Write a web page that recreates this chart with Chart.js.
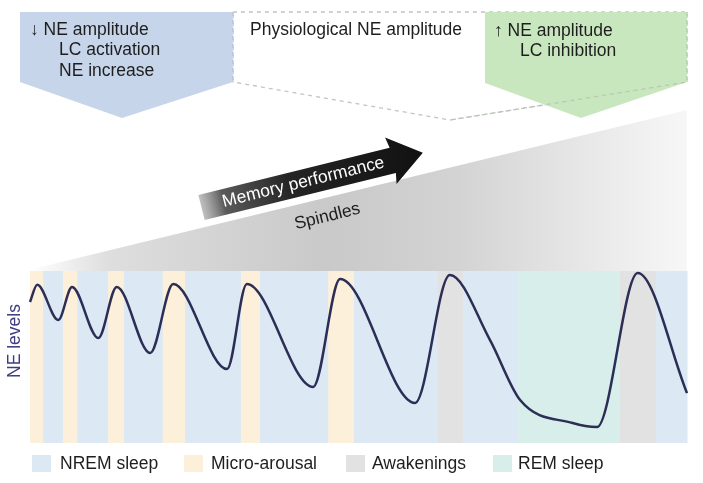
<!DOCTYPE html>
<html>
<head>
<meta charset="utf-8">
<script src="https://cdn.jsdelivr.net/npm/chart.js@4.4.0/dist/chart.umd.min.js"></script>
<style>
  html, body { margin: 0; padding: 0; background: #ffffff; }
  #wrap { width: 703px; height: 483px; position: relative; }
</style>
</head>
<body>
<div id="wrap"><canvas id="c" width="703" height="483"></canvas></div>
<script>
// ---- Data (x = time in arbitrary units 0-100, y = NE level 0-100) ----
const timePoints = [0, 1.1, 4.3, 6.4, 10.4, 13.2, 18.3, 21.8, 30.0, 33.0, 43.1, 47.2, 58.6, 63.9, 70.0, 74.6, 82.6, 86.3, 92.5, 100];
const neLevels   = [82, 92, 71.5, 90.7, 61, 90.7, 52.3, 92.4, 43, 92.4, 32.6, 95.3, 23.3, 97.7, 60, 25, 11.6, 9.3, 98.8, 29];

// sleep-stage bands along the time axis
const bandStart = [0, 2, 5, 7.2, 11.9, 14.3, 20.2, 23.6, 32.1, 35, 45.4, 49.3, 62, 65.9, 74.3, 89.8, 95.3];
const bandEnd   = [2, 5, 7.2, 11.9, 14.3, 20.2, 23.6, 32.1, 35, 45.4, 49.3, 62, 65.9, 74.3, 89.8, 95.3, 100];
const bandStage = ['micro','nrem','micro','nrem','micro','nrem','micro','nrem','micro','nrem','micro','nrem','awake','nrem','rem','awake','nrem'];

// legend categories
const stageKeys   = ['nrem', 'micro', 'awake', 'rem'];
const stageLabels = ['NREM sleep', 'Micro-arousal', 'Awakenings', 'REM sleep'];
const stageColors = ['#dce8f4', '#fcf0da', '#e2e2e2', '#d7eeea'];

// annotation texts
const leftBoxLines  = ['\u2193 NE amplitude', 'LC activation', 'NE increase'];
const midBoxText    = 'Physiological NE amplitude';
const rightBoxLines = ['\u2191 NE amplitude', 'LC inhibition'];
const arrowText     = 'Memory performance';
const belowArrowText = 'Spindles';
const yTitle        = 'NE levels';

const FONT = '"Liberation Sans", Arial, Helvetica, sans-serif';

const decor = {
  id: 'decor',
  beforeDraw(chart) {
    const ctx = chart.ctx;
    const a = chart.chartArea;
    ctx.save();
    ctx.fillStyle = '#ffffff';
    ctx.fillRect(0, 0, chart.width, chart.height);

    // gray wedge rising towards the right
    const g = ctx.createLinearGradient(a.left, 0, a.right, 0);
    g.addColorStop(0, '#ffffff');
    g.addColorStop(0.12, '#dedede');
    g.addColorStop(0.45, '#c9c9c9');
    g.addColorStop(0.65, '#d3d3d3');
    g.addColorStop(0.85, '#e8e8e8');
    g.addColorStop(1, '#f7f7f7');
    ctx.fillStyle = g;
    ctx.beginPath();
    ctx.moveTo(a.left - 10, a.top + 1);
    ctx.lineTo(a.right, 110);
    ctx.lineTo(a.right, a.top + 1);
    ctx.closePath();
    ctx.fill();

    // middle (physiological) dashed pentagon
    ctx.setLineDash([4, 4]);
    ctx.strokeStyle = '#c4c4c4';
    ctx.lineWidth = 1.3;
    ctx.beginPath();
    ctx.moveTo(233, 12);
    ctx.lineTo(687, 12);
    ctx.lineTo(687, 82);
    ctx.lineTo(450, 120);
    ctx.lineTo(233, 82);
    ctx.closePath();
    ctx.stroke();
    ctx.setLineDash([]);

    // blue pentagon
    ctx.fillStyle = '#c6d5ea';
    ctx.beginPath();
    ctx.moveTo(20, 12);
    ctx.lineTo(233, 12);
    ctx.lineTo(233, 82);
    ctx.lineTo(122, 118);
    ctx.lineTo(20, 82);
    ctx.closePath();
    ctx.fill();

    // green pentagon
    ctx.fillStyle = 'rgba(196,229,186,0.92)';
    ctx.beginPath();
    ctx.moveTo(485, 12);
    ctx.lineTo(687, 12);
    ctx.lineTo(687, 82);
    ctx.lineTo(581, 118);
    ctx.lineTo(485, 83);
    ctx.closePath();
    ctx.fill();

    // re-stroke dashed parts crossing the green box
    ctx.setLineDash([4, 4]);
    ctx.strokeStyle = '#b8c8b4';
    ctx.beginPath();
    ctx.moveTo(687, 12); ctx.lineTo(687, 82); ctx.lineTo(450, 120);
    ctx.stroke();
    ctx.strokeStyle = '#b9c3d0';
    ctx.beginPath();
    ctx.moveTo(233, 12); ctx.lineTo(233, 82);
    ctx.stroke();
    ctx.setLineDash([]);

    // box texts
    ctx.fillStyle = '#1e1e1e';
    ctx.font = '17.5px ' + FONT;
    ctx.textBaseline = 'middle';
    ctx.textAlign = 'left';
    ctx.fillText(leftBoxLines[0], 30, 30);
    ctx.fillText(leftBoxLines[1], 59, 50);
    ctx.fillText(leftBoxLines[2], 59, 71);
    ctx.fillText(midBoxText, 250, 30);
    ctx.fillText(rightBoxLines[0], 494, 31);
    ctx.fillText(rightBoxLines[1], 520, 51);

    // arrow
    const ang = Math.atan2(-0.247, 1);
    ctx.save();
    ctx.translate(201.5, 207.5);
    ctx.rotate(ang);
    const ag = ctx.createLinearGradient(0, 0, 228, 0);
    ag.addColorStop(0, 'rgba(140,140,140,0.55)');
    ag.addColorStop(0.1, '#5a5a5a');
    ag.addColorStop(0.4, '#252525');
    ag.addColorStop(1, '#111111');
    ctx.fillStyle = ag;
    ctx.beginPath();
    ctx.moveTo(0, -13);
    ctx.lineTo(197, -13);
    ctx.lineTo(195, -24);
    ctx.lineTo(228, 0);
    ctx.lineTo(195, 24);
    ctx.lineTo(197, 13);
    ctx.lineTo(0, 13);
    ctx.closePath();
    ctx.fill();
    ctx.fillStyle = '#ffffff';
    ctx.textAlign = 'center';
    ctx.textBaseline = 'middle';
    ctx.font = '17.5px ' + FONT;
    ctx.fillText(arrowText, 105, 0);
    ctx.fillStyle = '#1e1e1e';
    ctx.fillText(belowArrowText, 120, 39);
    ctx.restore();

    // y title
    ctx.save();
    ctx.translate(15, 341);
    ctx.rotate(-Math.PI / 2);
    ctx.fillStyle = '#3d3c7e';
    ctx.font = '17.5px ' + FONT;
    ctx.textAlign = 'center';
    ctx.textBaseline = 'middle';
    ctx.fillText(yTitle, 0, 0);
    ctx.restore();

    // legend
    const boxX = [32, 184, 346, 493];
    const textX = [60, 211, 372, 518];
    ctx.font = '17.5px ' + FONT;
    ctx.textAlign = 'left';
    ctx.textBaseline = 'middle';
    stageLabels.forEach((lab, i) => {
      ctx.fillStyle = stageColors[i];
      ctx.fillRect(boxX[i], 455, 19, 17);
      ctx.fillStyle = '#1e1e1e';
      ctx.fillText(lab, textX[i], 464.5);
    });
    ctx.restore();
  },
  beforeDatasetsDraw(chart) {
    const ctx = chart.ctx;
    const a = chart.chartArea;
    const xs = chart.scales.x;
    ctx.save();
    bandStart.forEach((s, i) => {
      const x0 = xs.getPixelForValue(s);
      const x1 = xs.getPixelForValue(bandEnd[i]);
      ctx.fillStyle = stageColors[stageKeys.indexOf(bandStage[i])];
      ctx.fillRect(x0, a.top, x1 - x0 + 0.5, a.bottom - a.top);
    });
    ctx.restore();
  }
};

new Chart(document.getElementById('c'), {
  type: 'line',
  data: {
    datasets: [{
      label: 'NE levels',
      data: timePoints.map((t, i) => ({ x: t, y: neLevels[i] })),
      borderColor: '#2c2e55',
      borderWidth: 2.5,
      pointRadius: 0,
      cubicInterpolationMode: 'monotone',
      fill: false,
      clip: false
    }]
  },
  options: {
    responsive: false,
    animation: false,
    devicePixelRatio: 1,
    layout: { padding: { left: 30, right: 16, top: 271, bottom: 40 } },
    scales: {
      x: { type: 'linear', min: 0, max: 100, display: false },
      y: { type: 'linear', min: 0, max: 100, display: false }
    },
    plugins: {
      legend: { display: false },
      tooltip: { enabled: false }
    }
  },
  plugins: [decor]
});
</script>
</body>
</html>
